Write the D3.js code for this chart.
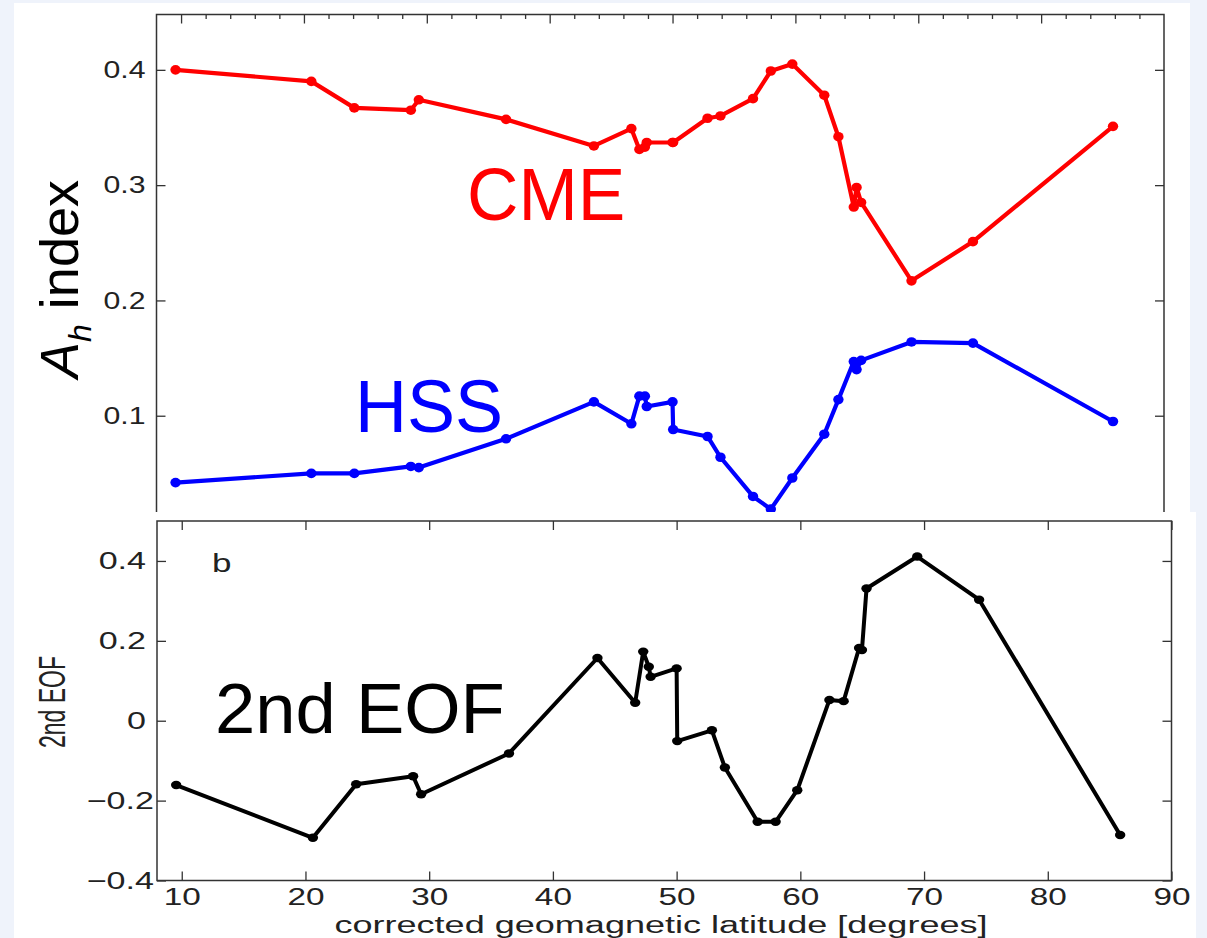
<!DOCTYPE html>
<html>
<head>
<meta charset="utf-8">
<script src="https://cdn.jsdelivr.net/npm/d3@7/dist/d3.min.js"></script>
<style>
  html, body { margin: 0; padding: 0; background: #eff3fb; }
  svg { display: block; }
</style>
</head>
<body>
<svg id="chart" width="1207" height="938"></svg>
<script>
// Station corrected geomagnetic latitudes (degrees)
const latitude = [9.55, 20.6, 24.1, 28.7, 29.35, 36.45, 43.6, 46.65, 47.3, 47.75, 47.9, 50.0, 50.05,
                  52.85, 53.9, 56.55, 58.0, 59.75, 62.35, 63.5, 64.75, 64.98, 65.35, 69.45, 74.45, 85.85];
// Ah index for CME-driven storms
const cmeAh = [0.400, 0.390, 0.367, 0.365, 0.374, 0.357, 0.334, 0.349, 0.331, 0.333, 0.337, 0.337, 0.337,
               0.358, 0.360, 0.375, 0.399, 0.405, 0.378, 0.342, 0.281, 0.298, 0.285, 0.217, 0.251, 0.351];
// Ah index for HSS-driven storms
const hssAh = [0.042, 0.050, 0.050, 0.056, 0.055, 0.080, 0.112, 0.093, 0.117, 0.117, 0.108, 0.112, 0.088,
               0.082, 0.064, 0.030, 0.019, 0.046, 0.084, 0.114, 0.147, 0.140, 0.148, 0.164, 0.163, 0.095];
// Second EOF of the Ah index
const eof2 = [-0.161, -0.293, -0.159, -0.139, -0.184, -0.082, 0.157, 0.045, 0.173, 0.135, 0.110, 0.131, -0.051,
              -0.024, -0.117, -0.253, -0.253, -0.174, 0.052, 0.049, 0.182, 0.177, 0.331, 0.411, 0.303, -0.286];

const ahTicks = [0.1, 0.2, 0.3, 0.4];
const eofTicks = [-0.4, -0.2, 0, 0.2, 0.4];
const latTicks = [10, 20, 30, 40, 50, 60, 70, 80, 90];
const latMinor = [12, 14, 16, 18, 22, 24, 26, 28, 32, 34, 36, 38, 42, 44, 46, 48, 52, 54, 56, 58,
                  62, 64, 66, 68, 72, 74, 76, 78, 82, 84, 86, 88];

const FONT = "Arial, 'Liberation Sans', Helvetica, sans-serif";
const AXIS = "#333";
const svg = d3.select("#chart");

// backdrop and the two white plot cards
svg.append("rect").attr("width", 1207).attr("height", 938).attr("fill", "#eff3fb");
svg.append("rect").attr("x", 14).attr("y", 3).attr("width", 1176).attr("height", 509).attr("fill", "#fff");
svg.append("rect").attr("x", 14).attr("y", 512).attr("width", 1182).attr("height", 426).attr("fill", "#fff");

// ---------------- upper panel: Ah index ----------------
const xTop = d3.scaleLinear().domain([8, 90]).range([156.5, 1164]);
const yTop = d3.scaleLinear().domain([0.0165, 0.448]).range([512, 14.5]);

const upper = svg.append("g");
svg.append("defs").append("clipPath").attr("id", "clipTop")
  .append("rect").attr("x", 100).attr("y", 0).attr("width", 1100).attr("height", 512);

function styleAxis(g) {
  g.select(".domain").remove();
  g.selectAll(".tick line").attr("stroke", AXIS).attr("stroke-width", 1.3);
  g.attr("font-family", FONT).attr("fill", "#222");
}

upper.append("g").attr("transform", "translate(156.5,0)")
  .call(d3.axisLeft(yTop).tickValues(ahTicks).tickSize(-9).tickFormat(d3.format(".1f")))
  .call(styleAxis)
  .call(g => g.selectAll("text").attr("x", 0).attr("fill", "#222").attr("font-size", 24)
    .attr("transform", "translate(-11,0) scale(1.26,1)"));
upper.append("g").attr("transform", "translate(1164,0)")
  .call(d3.axisRight(yTop).tickValues(ahTicks).tickSize(-9).tickFormat(""))
  .call(styleAxis);
upper.append("g").attr("transform", "translate(0,14.5)")
  .call(d3.axisTop(xTop).tickValues(latTicks.filter(d => d < 90)).tickSize(-9).tickFormat(""))
  .call(styleAxis);
upper.append("g").attr("transform", "translate(0,14.5)")
  .call(d3.axisTop(xTop).tickValues(latMinor).tickSize(-4.5).tickFormat(""))
  .call(styleAxis);

// frame: left, top, right (panel is cut at its lower edge)
upper.append("path")
  .attr("d", `M156.5,512V14.5H1164V512`)
  .attr("fill", "none").attr("stroke", AXIS).attr("stroke-width", 1.5);

const plotTop = upper.append("g").attr("clip-path", "url(#clipTop)");
function drawSeries(g, xs, ys, vals, color, width, rx, ry) {
  const pts = latitude.map((d, i) => [xs(d), ys(vals[i])]);
  g.append("path").attr("d", d3.line()(pts))
    .attr("fill", "none").attr("stroke", color).attr("stroke-width", width)
    .attr("stroke-linejoin", "round").attr("stroke-linecap", "round");
  g.selectAll(null).data(pts).join("ellipse")
    .attr("cx", p => p[0]).attr("cy", p => p[1]).attr("rx", rx).attr("ry", ry)
    .attr("fill", color);
}
drawSeries(plotTop, xTop, yTop, cmeAh, "#ff0000", 4.2, 5.2, 4.8);
drawSeries(plotTop, xTop, yTop, hssAh, "#0000ff", 4.2, 5.2, 4.8);

upper.append("text").attr("font-family", FONT).attr("font-size", 75).attr("fill", "#ff0000")
  .attr("transform", "translate(467,220) scale(0.95,1)").text("CME");
upper.append("text").attr("font-family", FONT).attr("font-size", 75).attr("fill", "#0000ff")
  .attr("transform", "translate(355,432) scale(0.96,1)").text("HSS");

const ahLabel = upper.append("text").attr("font-family", FONT).attr("font-size", 54).attr("fill", "#000")
  .attr("text-anchor", "middle").attr("transform", "translate(78,279) rotate(-90)");
ahLabel.append("tspan").attr("font-style", "italic").text("A");
ahLabel.append("tspan").attr("font-style", "italic").attr("font-size", 32).attr("dy", 13).text("h");
ahLabel.append("tspan").attr("dy", -13).text(" index");

// ---------------- lower panel: 2nd EOF ----------------
const xBot = d3.scaleLinear().domain([8, 90]).range([157, 1171.5]);
const yBot = d3.scaleLinear().domain([-0.4, 0.5]).range([880.5, 521]);
const lower = svg.append("g");

const fmtEof = d => d === 0 ? "0" : (d < 0 ? "\u2212" : "") + Math.abs(d).toFixed(1);
lower.append("g").attr("transform", "translate(157,0)")
  .call(d3.axisLeft(yBot).tickValues(eofTicks).tickSize(-9).tickFormat(fmtEof))
  .call(styleAxis)
  .call(g => g.selectAll("text").attr("x", 0).attr("fill", "#222").attr("font-size", 24)
    .attr("transform", d => `translate(${d < 0 ? -3 : -11},0) scale(1.42,1)`));
lower.append("g").attr("transform", "translate(1171.5,0)")
  .call(d3.axisRight(yBot).tickValues(eofTicks).tickSize(-9).tickFormat(""))
  .call(styleAxis);
lower.append("g").attr("transform", "translate(0,521)")
  .call(d3.axisTop(xBot).tickValues(latTicks).tickSize(-9).tickFormat(""))
  .call(styleAxis);
lower.append("g").attr("transform", "translate(0,880.5)")
  .call(d3.axisBottom(xBot).tickValues(latTicks).tickSize(-9).tickFormat(d3.format("d")))
  .call(styleAxis)
  .call(g => g.selectAll("text").attr("y", 0).attr("dy", 0).attr("fill", "#222").attr("font-size", 23)
    .attr("transform", "translate(0,24.5) scale(1.45,1)"));

lower.append("rect").attr("x", 157).attr("y", 521).attr("width", 1171.5 - 157).attr("height", 880.5 - 521)
  .attr("fill", "none").attr("stroke", AXIS).attr("stroke-width", 1.5);

drawSeries(lower.append("g"), xBot, yBot, eof2, "#000", 4, 5.2, 4.2);

lower.append("text").attr("font-family", FONT).attr("font-size", 23.5).attr("fill", "#222")
  .attr("text-anchor", "middle").attr("x", 661).attr("y", 933)
  .attr("textLength", 653).attr("lengthAdjust", "spacingAndGlyphs")
  .text("corrected geomagnetic latitude [degrees]");

lower.append("text").attr("font-family", FONT).attr("font-size", 23).attr("fill", "#222")
  .attr("text-anchor", "middle").attr("transform", "translate(65,702) rotate(-90) scale(1,1.6)")
  .text("2nd EOF");

lower.append("text").attr("font-family", FONT).attr("font-size", 25).attr("fill", "#222")
  .attr("transform", "translate(212,572) scale(1.4,1)").text("b");

lower.append("text").attr("font-family", FONT).attr("font-size", 71).attr("fill", "#000")
  .attr("transform", "translate(215,733) scale(1.02,1)").text("2nd EOF");
</script>
</body>
</html>
